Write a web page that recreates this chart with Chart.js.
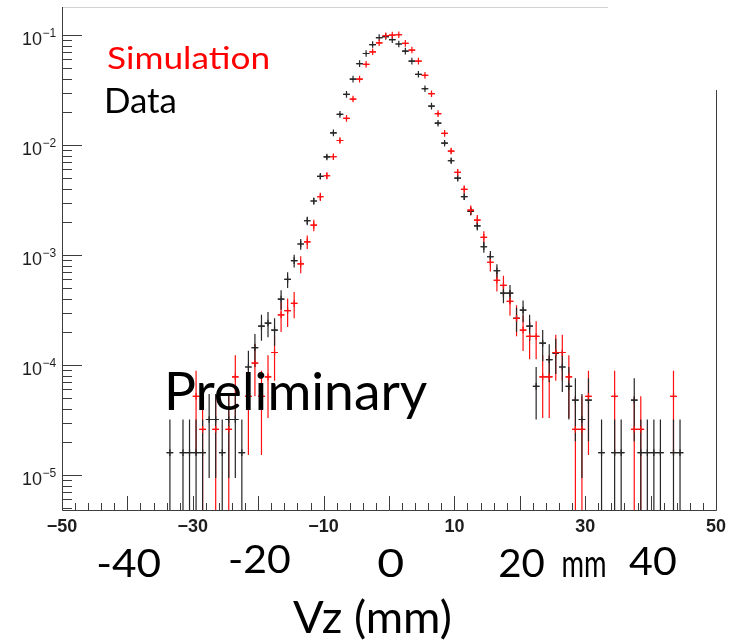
<!DOCTYPE html>
<html>
<head>
<meta charset="utf-8">
<title>Vz</title>
<script src="https://cdn.jsdelivr.net/npm/chart.js@4.4.1/dist/chart.umd.min.js"></script>
<style>
  html, body { margin: 0; padding: 0; background: #fff; }
  canvas { display: block; }
</style>
</head>
<body>
<canvas id="vzChart" width="732" height="643"></canvas>
<script>
// 1 mm bins, centres in mm
var binCenters = [
  -33.5, -32.5, -31.5, -30.5, -29.5, -28.5, -27.5, -26.5, -25.5, -24.5,
  -23.5, -22.5, -21.5, -20.5, -19.5, -18.5, -17.5, -16.5, -15.5, -14.5,
  -13.5, -12.5, -11.5, -10.5, -9.5, -8.5, -7.5, -6.5, -5.5, -4.5,
  -3.5, -2.5, -1.5, -0.5, 0.5, 1.5, 2.5, 3.5, 4.5, 5.5,
  6.5, 7.5, 8.5, 9.5, 10.5, 11.5, 12.5, 13.5, 14.5, 15.5,
  16.5, 17.5, 18.5, 19.5, 20.5, 21.5, 22.5, 23.5, 24.5, 25.5,
  26.5, 27.5, 28.5, 29.5, 30.5, 31.5, 32.5, 33.5, 34.5, 35.5,
  36.5, 37.5, 38.5, 39.5, 40.5, 41.5, 42.5, 43.5, 44.5
];
var binHalfWidth = 0.5;

// normalised counts, null = empty bin
var dataValues = [
  1.6e-5, null, 1.6e-5, 1.6e-5, 1.6e-5, 1.6e-5, 3.2e-5, 3.2e-5, 1.6e-5, 3.2e-5,
  3.2e-5, 1.6e-5, 9.6e-5, 1.44e-4, 2.26e-4, 2.41e-4, 2.08e-4, 3.98e-4, 6.0e-4, 8.9e-4,
  1.26e-3, 2.05e-3, 3.1e-3, 5.2e-3, 7.8e-3, 1.29e-2, 1.90e-2, 2.89e-2, 3.98e-2, 5.5e-2,
  6.8e-2, 8.2e-2, 9.5e-2, 9.7e-2, 9.1e-2, 8.3e-2, 7.15e-2, 5.8e-2, 4.4e-2, 3.25e-2,
  2.26e-2, 1.58e-2, 1.04e-2, 7.2e-3, 5.0e-3, 3.4e-3, 2.5e-3, 1.84e-3, 1.19e-3, 9.65e-4,
  7.2e-4, 4.5e-4, 4.5e-4, 2.66e-4, 3.16e-4, 2.26e-4, 6.4e-5, 1.58e-4, 1.12e-4, 1.28e-4,
  9.6e-5, 6.4e-5, 4.8e-5, 3.2e-5, 4.8e-5, null, 1.6e-5, null, 1.6e-5, 1.6e-5,
  null, 4.8e-5, 1.6e-5, 1.6e-5, 1.6e-5, 1.6e-5, null, 1.6e-5, 1.6e-5
];
var dataErrors = [
  1.6e-5, null, 1.6e-5, 1.6e-5, 1.6e-5, 1.6e-5, 2.26e-5, 2.26e-5, 1.6e-5, 2.26e-5,
  2.26e-5, 1.6e-5, 3.92e-5, 4.8e-5, 6.0e-5, 6.2e-5, 5.8e-5, 8.0e-5, 9.8e-5, 1.19e-4,
  1.42e-4, 1.81e-4, 2.23e-4, 2.88e-4, 3.53e-4, 4.54e-4, 5.51e-4, 6.8e-4, 7.98e-4, 9.38e-4,
  1.04e-3, 1.15e-3, 1.23e-3, 1.25e-3, 1.21e-3, 1.15e-3, 1.07e-3, 9.63e-4, 8.39e-4, 7.2e-4,
  6.01e-4, 5.03e-4, 4.08e-4, 3.39e-4, 2.83e-4, 2.33e-4, 2.0e-4, 1.72e-4, 1.38e-4, 1.24e-4,
  1.07e-4, 8.5e-5, 8.5e-5, 6.5e-5, 7.1e-5, 6.0e-5, 3.2e-5, 5.0e-5, 4.23e-5, 4.53e-5,
  3.92e-5, 3.2e-5, 2.77e-5, 2.26e-5, 2.77e-5, null, 1.6e-5, null, 1.6e-5, 1.6e-5,
  null, 2.77e-5, 1.6e-5, 1.6e-5, 1.6e-5, 1.6e-5, null, 1.6e-5, 1.6e-5
];
var simValues = [
  null, null, null, null, 5.2e-5, 2.6e-5, null, 2.6e-5, null, 2.6e-5,
  7.8e-5, null, 5.2e-5, 1.04e-4, 5.2e-5, 7.8e-5, 1.3e-4, 2.86e-4, 3.12e-4, 3.64e-4,
  8.3e-4, 1.32e-3, 1.87e-3, 3.39e-3, 5.26e-3, 7.83e-3, 1.10e-2, 1.75e-2, 2.62e-2, 3.98e-2,
  5.42e-2, 7.05e-2, 8.51e-2, 9.86e-2, 1.0e-1, 1.007e-1, 8.4e-2, 7.31e-2, 5.8e-2, 4.3e-2,
  2.93e-2, 1.93e-2, 1.277e-2, 8.82e-3, 5.65e-3, 3.96e-3, 2.56e-3, 2.08e-3, 1.45e-3, 8.6e-4,
  5.9e-4, 5.3e-4, 3.8e-4, 2.66e-4, 2.08e-4, 1.82e-4, 1.82e-4, 7.8e-5, 7.8e-5, 1.3e-4,
  1.3e-4, 7.8e-5, 2.6e-5, 2.6e-5, 5.2e-5, null, null, null, 5.2e-5, null,
  null, 2.6e-5, 2.6e-5, null, null, null, null, 5.2e-5, null
];
var simErrors = [
  null, null, null, null, 3.68e-5, 2.6e-5, null, 2.6e-5, null, 2.6e-5,
  4.5e-5, null, 3.68e-5, 5.2e-5, 3.68e-5, 4.5e-5, 5.81e-5, 8.62e-5, 9.01e-5, 9.73e-5,
  1.47e-4, 1.85e-4, 2.2e-4, 2.97e-4, 3.7e-4, 4.51e-4, 5.35e-4, 6.75e-4, 8.25e-4, 1.02e-3,
  1.19e-3, 1.35e-3, 1.49e-3, 1.6e-3, 1.61e-3, 1.62e-3, 1.48e-3, 1.38e-3, 1.23e-3, 1.06e-3,
  8.73e-4, 7.08e-4, 5.76e-4, 4.79e-4, 3.83e-4, 3.21e-4, 2.58e-4, 2.33e-4, 1.94e-4, 1.5e-4,
  1.24e-4, 1.17e-4, 9.94e-5, 8.32e-5, 7.35e-5, 6.88e-5, 6.88e-5, 4.5e-5, 4.5e-5, 5.81e-5,
  5.81e-5, 4.5e-5, 2.6e-5, 2.6e-5, 3.68e-5, null, null, null, 3.68e-5, null,
  null, 2.6e-5, 2.6e-5, null, null, null, null, 3.68e-5, null
];

var xTickLabels = [-50, -30, -10, 10, 30, 50];
var yTickDecades = [-5, -4, -3, -2, -1];
var bigTickLabels = [-40, -20, 0, 20, 40];

function toPoints(values, errors) {
  var pts = [];
  for (var i = 0; i < binCenters.length; i++) {
    if (values[i] === null) continue;
    pts.push({ x: binCenters[i], y: values[i], err: errors[i] });
  }
  return pts;
}

// vertical stat error + horizontal bin width, ROOT "E" style
var errorBars = {
  id: 'errorBars',
  beforeDatasetsDraw: function (chart) {
    var c = chart.ctx, xs = chart.scales.x, ys = chart.scales.y, area = chart.chartArea;
    c.save();
    c.beginPath();
    c.rect(area.left, area.top, area.right - area.left, area.bottom - area.top);
    c.clip();
    chart.data.datasets.forEach(function (ds) {
      c.strokeStyle = ds.borderColor;
      c.lineWidth = 1.2;
      ds.data.forEach(function (p) {
        var px = xs.getPixelForValue(p.x);
        var py = ys.getPixelForValue(p.y);
        var lowVal = p.y - p.err;
        var lo = lowVal > ys.min ? ys.getPixelForValue(lowVal) : area.bottom;
        var hi = ys.getPixelForValue(p.y + p.err);
        c.beginPath();
        c.moveTo(px, hi);
        c.lineTo(px, lo);
        c.moveTo(xs.getPixelForValue(p.x - binHalfWidth), py);
        c.lineTo(xs.getPixelForValue(p.x + binHalfWidth), py);
        c.stroke();
      });
    });
    c.restore();
  }
};

// text squeezed/stretched to a given ink width
function drawFitted(c, text, left, baseline, width, size, color) {
  c.save();
  c.font = size + 'px Lato, "Open Sans", sans-serif';
  c.textAlign = 'left';
  c.textBaseline = 'alphabetic';
  var m = c.measureText(text);
  var ink = m.actualBoundingBoxLeft + m.actualBoundingBoxRight;
  c.translate(left, baseline);
  c.scale(width / ink, 1);
  c.fillStyle = color;
  c.fillText(text, m.actualBoundingBoxLeft, 0);
  c.restore();
}

var rootFrame = {
  id: 'rootFrame',
  afterDraw: function (chart) {
    var c = chart.ctx, xs = chart.scales.x, ys = chart.scales.y, area = chart.chartArea;
    var L = area.left, R = area.right, T = area.top, B = area.bottom;
    c.save();

    // frame
    c.lineWidth = 1;
    c.strokeStyle = '#d2d2d2';
    c.beginPath();
    c.moveTo(L, T + 0.5);
    c.lineTo(608, T + 0.5);
    c.stroke();
    c.strokeStyle = '#3c3c3c';
    c.beginPath();
    c.moveTo(L + 0.5, T);
    c.lineTo(L + 0.5, B + 0.5);
    c.lineTo(R + 0.5, B + 0.5);
    c.lineTo(R + 0.5, 90);
    c.stroke();

    // x ticks, 10 primary / 5 secondary divisions
    c.beginPath();
    for (var v = -50; v <= 50; v += 2) {
      var px = Math.round(xs.getPixelForValue(v)) + 0.5;
      var len = (v % 10 === 0) ? 14 : 7;
      c.moveTo(px, B);
      c.lineTo(px, B - len);
    }
    // y ticks, decades and 2..9 subdivisions
    for (var d = -6; d <= -1; d++) {
      for (var k = 1; k <= 9; k++) {
        var val = k * Math.pow(10, d);
        if (val < ys.min || val > ys.max) continue;
        var py = Math.round(ys.getPixelForValue(val)) + 0.5;
        c.moveTo(L, py);
        c.lineTo(L + (k === 1 ? 20 : 10), py);
      }
    }
    c.stroke();

    // ROOT axis labels
    c.fillStyle = '#1e1e1e';
    c.font = 'bold 18px "Liberation Sans", Arial, sans-serif';
    c.textAlign = 'center';
    c.textBaseline = 'alphabetic';
    xTickLabels.forEach(function (t) {
      c.fillText(String(t).replace('-', '\u2212'), xs.getPixelForValue(t), B + 22);
    });
    yTickDecades.forEach(function (d) {
      var py = ys.getPixelForValue(Math.pow(10, d));
      c.font = '18px "Liberation Sans", Arial, sans-serif';
      c.textAlign = 'right';
      c.fillText('10', 42, py + 10);
      c.font = '12px "Liberation Sans", Arial, sans-serif';
      c.textAlign = 'left';
      c.fillText('\u2212' + (-d), 42.5, py + 2);
    });
    c.restore();

    // annotations
    drawFitted(c, 'Simulation', 107, 69, 161, 30, '#ff0000');
    drawFitted(c, 'Data', 107, 113, 68, 34, '#000000');
    drawFitted(c, 'Preliminary', 168, 410, 259, 53, '#000000');

    var bigWidths = [62, 60, 25, 45, 47];
    var bigBaselines = [577, 573, 577, 577, 575];
    bigTickLabels.forEach(function (t, i) {
      var cx = xs.getPixelForValue(t) + 2;
      drawFitted(c, String(t), cx - bigWidths[i] / 2, bigBaselines[i], bigWidths[i], 39, '#000000');
    });
    drawFitted(c, 'mm', 563, 577, 42, 38, '#000000');
    drawFitted(c, 'Vz (mm)', 293, 633, 157, 44, '#000000');
  }
};

var ctx = document.getElementById('vzChart').getContext('2d');
var vzChart = new Chart(ctx, {
  type: 'scatter',
  data: {
    datasets: [
      {
        label: 'Simulation',
        data: toPoints(simValues, simErrors),
        borderColor: '#ff1010',
        backgroundColor: '#ff1010',
        pointStyle: 'cross',
        pointRadius: 3.3,
        pointHoverRadius: 3.3,
        borderWidth: 1.2
      },
      {
        label: 'Data',
        data: toPoints(dataValues, dataErrors),
        borderColor: '#262626',
        backgroundColor: '#262626',
        pointStyle: 'cross',
        pointRadius: 3.3,
        pointHoverRadius: 3.3,
        borderWidth: 1.2
      }
    ]
  },
  options: {
    responsive: false,
    animation: false,
    devicePixelRatio: 1,
    layout: { padding: { left: 62, right: 16, top: 7, bottom: 133 } },
    plugins: { legend: { display: false }, tooltip: { enabled: false } },
    scales: {
      x: { type: 'linear', min: -50, max: 50, display: false },
      y: { type: 'logarithmic', min: 4.81e-6, max: 0.18, bounds: 'data', display: false }
    }
  },
  plugins: [errorBars, rootFrame]
});
</script>
</body>
</html>
